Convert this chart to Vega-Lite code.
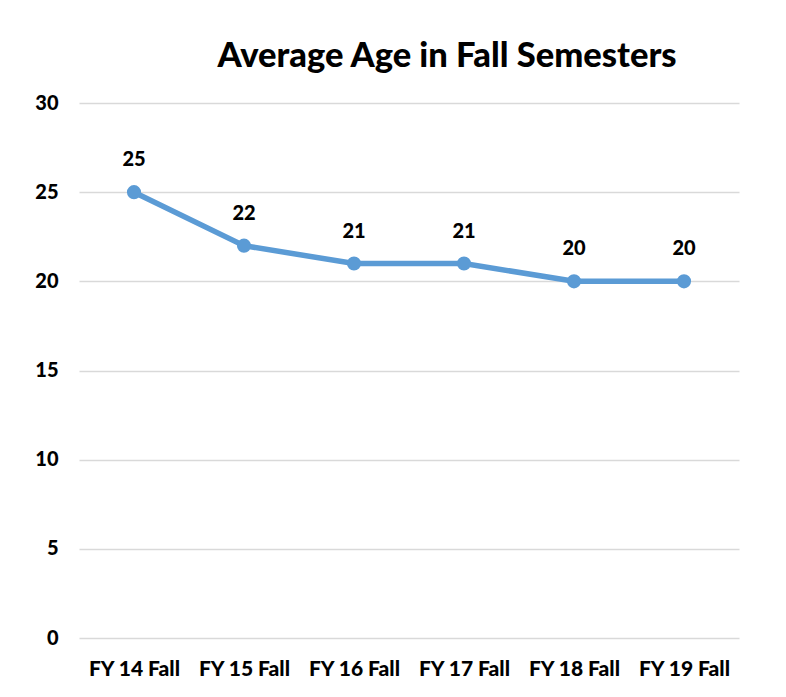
{
  "$schema": "https://vega.github.io/schema/vega-lite/v6.json",
  "autosize": {"type": "none"},
  "width": 660,
  "height": 535,
  "padding": {"left": 79, "top": 103, "right": 47, "bottom": 59},
  "background": "white",
  "title": {
    "text": "Average Age in Fall Semesters",
    "font": "Lato",
    "fontSize": 34.5,
    "fontWeight": 900,
    "color": "#000000",
    "anchor": "middle",
    "dx": 38,
    "offset": 19
  },
  "data": {
    "values": [
      {"term": "FY 14 Fall", "age": 25},
      {"term": "FY 15 Fall", "age": 22},
      {"term": "FY 16 Fall", "age": 21},
      {"term": "FY 17 Fall", "age": 21},
      {"term": "FY 18 Fall", "age": 20},
      {"term": "FY 19 Fall", "age": 20}
    ]
  },
  "encoding": {
    "x": {
      "field": "term",
      "type": "nominal",
      "sort": null,
      "scale": {"type": "point", "padding": 0.5},
      "axis": {
        "title": null,
        "labelAngle": 0,
        "labelFont": "Lato",
        "labelFontWeight": 900,
        "labelFontSize": 21,
        "labelColor": "#000000",
        "labelPadding": 20,
        "ticks": false,
        "domain": false,
        "grid": false
      }
    },
    "y": {
      "field": "age",
      "type": "quantitative",
      "scale": {"domain": [0, 30], "nice": false, "zero": true},
      "axis": {
        "title": null,
        "values": [0, 5, 10, 15, 20, 25, 30],
        "labelFont": "Lato",
        "labelFontWeight": 900,
        "labelFontSize": 20,
        "labelColor": "#000000",
        "labelPadding": 21,
        "ticks": false,
        "domain": false,
        "grid": true,
        "gridColor": "#d9d9d9",
        "gridWidth": 1.5
      }
    }
  },
  "layer": [
    {"mark": {"type": "line", "color": "#5b9bd5", "strokeWidth": 5.5}},
    {"mark": {"type": "point", "filled": true, "opacity": 1, "color": "#5b9bd5", "size": 200}},
    {
      "mark": {
        "type": "text",
        "dy": -32,
        "font": "Lato",
        "fontWeight": 900,
        "fontSize": 20,
        "color": "#000000"
      },
      "encoding": {"text": {"field": "age", "type": "quantitative"}}
    }
  ],
  "config": {"view": {"stroke": null}}
}
